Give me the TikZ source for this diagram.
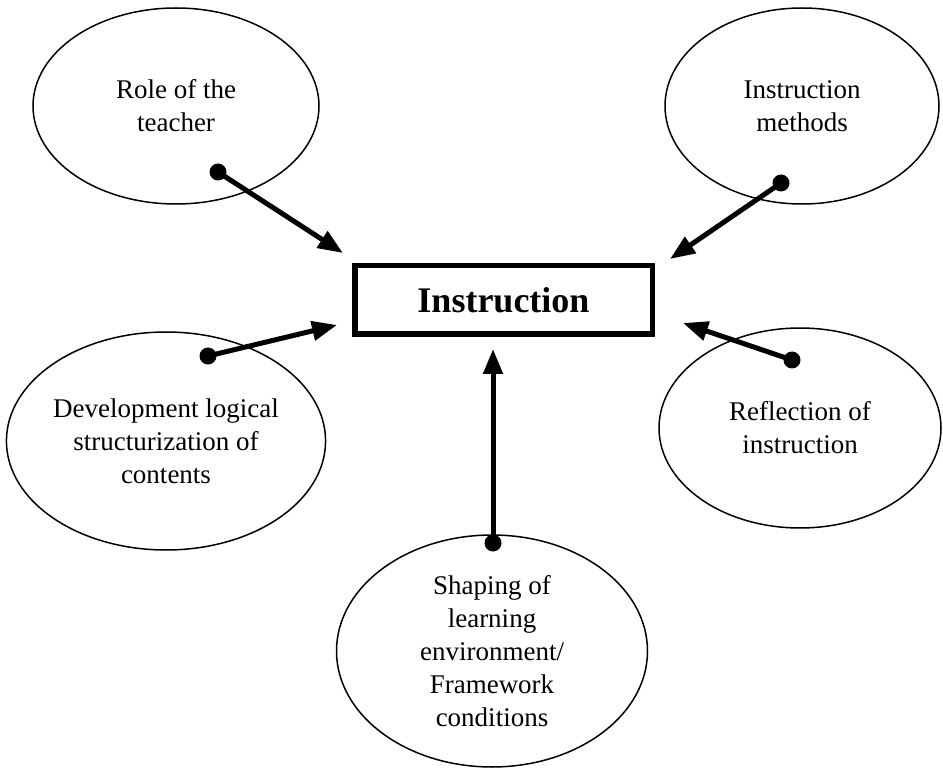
\documentclass[tikz,border=0pt]{standalone}
\usepackage{fontspec}
\setmainfont{Liberation Serif}
\usetikzlibrary{shapes.geometric,arrows.meta}

\begin{document}
\begin{tikzpicture}[x=5pt,y=5pt,
  topic/.style={draw,ellipse,line width=0.75pt,inner sep=0pt,align=center,font=\fontsize{13.5}{16.5}\selectfont},
  core/.style={draw,rectangle,line width=2.75pt,inner sep=0pt,minimum width=148.75pt,minimum height=34.25pt,font=\fontsize{18}{22}\selectfont\bfseries},
  link/.style={line width=2.5pt,-{Triangle[length=12.5pt,width=9.5pt]}}]
\useasboundingbox (0,0) rectangle (94.3,-77);
\node [core] (instr) at (50.35,-30) {Instruction};
\node [topic,minimum width=143pt,minimum height=98pt] (role) at (17.6,-10.6) {Role of the\\teacher};
\node [topic,minimum width=137pt,minimum height=98pt] (methods) at (80.2,-10.6) {Instruction\\methods};
\node [topic,minimum width=156pt,minimum height=109pt] (contents) at (16.6,-44.1) {Development logical\\structurization of\\contents};
\node [topic,minimum width=141pt,minimum height=100pt] (reflect) at (80,-42.8) {Reflection of\\instruction};
\node [topic,minimum width=155.5pt,minimum height=116pt] (shaping) at (49.2,-65.1) {Shaping of\\learning\\environment/\\Framework\\conditions};
\coordinate (roledot) at (21.8,-17.2);
\coordinate (roletip) at (34.3,-25.3);
\coordinate (methodsdot) at (78.1,-18.3);
\coordinate (methodstip) at (67,-25.9);
\coordinate (contentsdot) at (20.8,-35.6);
\coordinate (contentstip) at (33.7,-32.5);
\coordinate (reflectdot) at (79.2,-36);
\coordinate (reflecttip) at (68.3,-32.3);
\coordinate (shapingdot) at (49.3,-54.3);
\coordinate (shapingtip) at (49.3,-34.9);
\fill (roledot) circle (0.85);
\draw [link] (roledot) -- (roletip);
\fill (methodsdot) circle (0.85);
\draw [link] (methodsdot) -- (methodstip);
\fill (contentsdot) circle (0.85);
\draw [link] (contentsdot) -- (contentstip);
\fill (reflectdot) circle (0.85);
\draw [link] (reflectdot) -- (reflecttip);
\fill (shapingdot) circle (0.85);
\draw [link] (shapingdot) -- (shapingtip);
\end{tikzpicture}
\end{document}
